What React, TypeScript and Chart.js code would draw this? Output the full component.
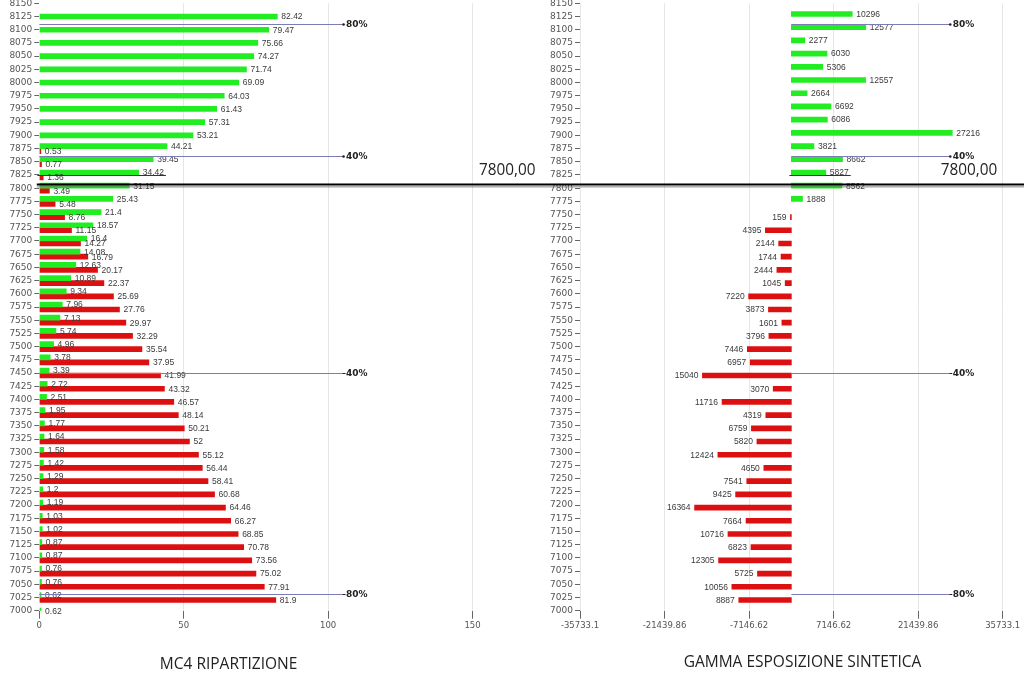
import React, { useEffect, useRef } from 'react';
import { Chart, registerables } from 'chart.js';

Chart.register(...registerables);

// strikes, top to bottom
const STRIKES = [
  8150, 8125, 8100, 8075, 8050, 8025, 8000, 7975, 7950, 7925, 7900, 7875, 7850, 7825, 7800, 7775,
  7750, 7725, 7700, 7675, 7650, 7625, 7600, 7575, 7550, 7525, 7500, 7475, 7450, 7425, 7400, 7375,
  7350, 7325, 7300, 7275, 7250, 7225, 7200, 7175, 7150, 7125, 7100, 7075, 7050, 7025, 7000,
];

// MC4 ripartizione (%)
const CALL_PCT = [
  null, 82.42, 79.47, 75.66, 74.27, 71.74, 69.09, 64.03, 61.43, 57.31, 53.21, 44.21, 39.45, 34.42, 31.15, 25.43,
  21.4, 18.57, 16.4, 14.08, 12.63, 10.89, 9.34, 7.96, 7.13, 5.74, 4.96, 3.78, 3.39, 2.72, 2.51, 1.95,
  1.77, 1.64, 1.58, 1.42, 1.29, 1.2, 1.19, 1.03, 1.02, 0.87, 0.87, 0.76, 0.76, 0.62, 0.62,
];
const PUT_PCT = [
  null, null, null, null, null, null, null, null, null, null, null, 0.53, 0.77, 1.36, 3.49, 5.48,
  8.76, 11.15, 14.27, 16.79, 20.17, 22.37, 25.69, 27.76, 29.97, 32.29, 35.54, 37.95, 41.99, 43.32, 46.57, 48.14,
  50.21, 52, 55.12, 56.44, 58.41, 60.68, 64.46, 66.27, 68.85, 70.78, 73.56, 75.02, 77.91, 81.9, null,
];

// gamma esposizione sintetica
const CALL_GAMMA = [
  null, 10296, 12577, 2277, 6030, 5306, 12557, 2664, 6692, 6086, 27216, 3821, 8662, 5827, 8562, 1888,
  null, null, null, null, null, null, null, null, null, null, null, null, null, null, null, null,
  null, null, null, null, null, null, null, null, null, null, null, null, null, null, null,
];
const PUT_GAMMA = [
  null, null, null, null, null, null, null, null, null, null, null, null, null, null, null, null,
  -159, -4395, -2144, -1744, -2444, -1045, -7220, -3873, -1601, -3796, -7446, -6957, -15040, -3070, -11716, -4319,
  -6759, -5820, -12424, -4650, -7541, -9425, -16364, -7664, -10716, -6823, -12305, -5725, -10056, -8887, null,
];

const PCT_TICKS = [0, 50, 100, 150];
const GAMMA_TICKS = [-35733.1, -21439.86, -7146.62, 7146.62, 21439.86, 35733.1];

const LEVEL_STRIKES = [8110, 7861, 7450, 7031];
const LEVEL_LABELS = ['80%', '40%', '40%', '80%'];
const SPOT_STRIKE = 7806;
const SPOT_LABEL = '7800,00';
const MARK_STRIKE = 7825;

const GREEN = '#22ec22';
const RED = '#dc1010';
const TICK_FONT = '"DejaVu Sans", Verdana, sans-serif';

const strikeIndex = (s: number) => (STRIKES[0] - s) / (STRIKES[0] - STRIKES[1]);

const barLabels = (fmt: (v: number) => string) => ({
  id: 'barLabels',
  afterDatasetsDraw(chart: any) {
    const ctx = chart.ctx;
    ctx.save();
    ctx.font = '8.5px "Liberation Sans", Arial, sans-serif';
    ctx.fillStyle = '#3a3a3a';
    ctx.textBaseline = 'middle';
    chart.data.datasets.forEach((ds: any, di: number) => {
      const meta = chart.getDatasetMeta(di);
      meta.data.forEach((bar: any, i: number) => {
        const v = ds.data[i];
        if (v === null || v === undefined) return;
        const neg = v < 0;
        ctx.textAlign = neg ? 'right' : 'left';
        ctx.fillText(fmt(v), bar.x + (neg ? -4 : 4), bar.y + 0.5);
      });
    });
    ctx.restore();
  },
});

const overlay = (levelEnd: number, spotInside: boolean, fmt: (v: number) => string) => ({
  id: 'overlay',
  afterDraw(chart: any) {
    const { ctx, chartArea } = chart;
    const xs = chart.scales.x;
    const ys = chart.scales.y;
    const yOf = (s: number) => ys.getPixelForValue(strikeIndex(s));
    const x0 = xs.getPixelForValue(0);
    const x1 = xs.getPixelForValue(levelEnd);
    ctx.save();

    // cumulative level lines
    LEVEL_STRIKES.forEach((s, i) => {
      const py = Math.round(yOf(s)) + 0.5;
      ctx.strokeStyle = '#7b7bb6';
      ctx.lineWidth = 1;
      ctx.beginPath();
      ctx.moveTo(x0, py);
      ctx.lineTo(x1, py);
      ctx.stroke();
      ctx.fillStyle = '#222';
      if (s > SPOT_STRIKE) {
        ctx.beginPath();
        ctx.arc(x1 + 1, py, 1.3, 0, Math.PI * 2);
        ctx.fill();
      } else {
        ctx.fillRect(x1, py - 0.5, 3, 1);
      }
      ctx.font = 'bold 9px "DejaVu Sans", sans-serif';
      ctx.textAlign = 'left';
      ctx.textBaseline = 'middle';
      ctx.fillText(LEVEL_LABELS[i], x1 + 3.5, py + 0.5);
    });

    // underline at mark strike
    const mi = STRIKES.indexOf(MARK_STRIKE);
    const mv = chart.data.datasets[0].data[mi];
    const mBar = chart.getDatasetMeta(0).data[mi];
    if (mv !== null && mBar) {
      ctx.font = '8.5px "Liberation Sans", Arial, sans-serif';
      const w = ctx.measureText(fmt(mv)).width;
      const my = Math.round(yOf(MARK_STRIKE)) + 0.5;
      ctx.strokeStyle = '#333';
      ctx.beginPath();
      ctx.moveTo(x0 - 2, my);
      ctx.lineTo(mBar.x + 4 + w + 2, my);
      ctx.stroke();
    }

    // spot line across the canvas
    const sy = yOf(SPOT_STRIKE);
    const from = spotInside ? 0 : x0 - 2.5;
    ctx.fillStyle = '#000';
    ctx.fillRect(from, sy - 1.5, chart.width - from, 2);
    ctx.fillStyle = '#666';
    ctx.fillRect(from, sy + 1.5, chart.width - from, 0.8);

    // spot label, slightly condensed
    ctx.font = '17px "Open Sans", sans-serif';
    ctx.fillStyle = '#222';
    ctx.textBaseline = 'middle';
    ctx.textAlign = 'left';
    const tw = ctx.measureText(SPOT_LABEL).width * 0.9;
    const tx = spotInside ? chartArea.right - 5.5 - tw : chartArea.right + 6.5;
    ctx.translate(tx, sy - 14.5);
    ctx.scale(0.9, 1);
    ctx.fillText(SPOT_LABEL, 0, 0);
    ctx.restore();
  },
});

type Props = {
  calls: (number | null)[];
  puts: (number | null)[];
  xMin: number;
  xMax: number;
  xTicks: number[];
  axisWidth: number;
  padRight: number;
  levelEnd: number;
  spotInside: boolean;
  skipNull: boolean;
  fmt: (v: number) => string;
};

const StrikeChart: React.FC<Props> = (p) => {
  const ref = useRef<HTMLCanvasElement>(null);

  useEffect(() => {
    if (!ref.current) return;
    const chart = new Chart(ref.current, {
      type: 'bar',
      data: {
        labels: STRIKES.map(String),
        datasets: [
          { data: p.calls, backgroundColor: GREEN, barThickness: 5, skipNull: p.skipNull },
          { data: p.puts, backgroundColor: RED, barThickness: 5, skipNull: p.skipNull },
        ],
      } as any,
      options: {
        indexAxis: 'y',
        animation: false,
        responsive: true,
        maintainAspectRatio: false,
        layout: { padding: { top: 3.3, right: p.padRight, left: 0, bottom: 0 } },
        scales: {
          x: {
            type: 'linear',
            min: p.xMin,
            max: p.xMax,
            afterBuildTicks: (s: any) => {
              s.ticks = p.xTicks.map((value) => ({ value }));
            },
            afterFit: (s: any) => {
              s.height = 75.3;
              s.paddingLeft = 0;
              s.paddingRight = 0;
            },
            grid: {
              color: (c: any) => (c.tick && c.tick.value === 0 ? 'rgba(0,0,0,0)' : '#e6e6e6'),
              tickColor: '#666',
              tickLength: 8,
            },
            border: { display: false },
            ticks: {
              font: { family: TICK_FONT, size: 8.5 },
              color: '#555',
              padding: 2,
              maxRotation: 0,
              autoSkip: false,
              callback: (v: any) => String(v),
            },
          },
          y: {
            type: 'category',
            offset: false,
            afterFit: (s: any) => {
              s.width = p.axisWidth;
              s.paddingTop = 0;
              s.paddingBottom = 0;
            },
            grid: { offset: false, drawOnChartArea: false, tickColor: '#666', tickLength: 5 },
            border: { display: false },
            ticks: { font: { family: TICK_FONT, size: 9 }, color: '#555', padding: 2, autoSkip: false },
          },
        },
        plugins: { legend: { display: false }, tooltip: { enabled: false } },
      } as any,
      plugins: [barLabels(p.fmt), overlay(p.levelEnd, p.spotInside, p.fmt)],
    });
    return () => chart.destroy();
  }, []);

  return <canvas ref={ref} />;
};

const titleStyle: React.CSSProperties = {
  position: 'absolute',
  transform: 'translate(-50%, -50%)',
  whiteSpace: 'nowrap',
  fontFamily: '"Open Sans", sans-serif',
  fontSize: 15.5,
  color: '#222',
};

const App: React.FC = () => {
  return (
    <div style={{ position: 'absolute', left: 0, top: 0, width: 1024, height: 686, background: '#fff', overflow: 'hidden' }}>
      <div style={{ position: 'absolute', left: 0, top: 0, width: 540, height: 686 }}>
        <StrikeChart
          calls={CALL_PCT}
          puts={PUT_PCT}
          xMin={0}
          xMax={150}
          xTicks={PCT_TICKS}
          axisWidth={39.3}
          padRight={67.5}
          levelEnd={105}
          spotInside={false}
          skipNull={true}
          fmt={(v) => String(v)}
        />
      </div>
      <div style={{ position: 'absolute', left: 540, top: 0, width: 484, height: 686 }}>
        <StrikeChart
          calls={CALL_GAMMA}
          puts={PUT_GAMMA}
          xMin={-35733.1}
          xMax={35733.1}
          xTicks={GAMMA_TICKS}
          axisWidth={40}
          padRight={21.3}
          levelEnd={26700}
          spotInside={true}
          skipNull={false}
          fmt={(v) => String(Math.abs(v))}
        />
      </div>
      <div style={{ ...titleStyle, left: 228.6, top: 662.7 }}>MC4 RIPARTIZIONE</div>
      <div style={{ ...titleStyle, left: 802.5, top: 660.5 }}>GAMMA ESPOSIZIONE SINTETICA</div>
    </div>
  );
};

export default App;
